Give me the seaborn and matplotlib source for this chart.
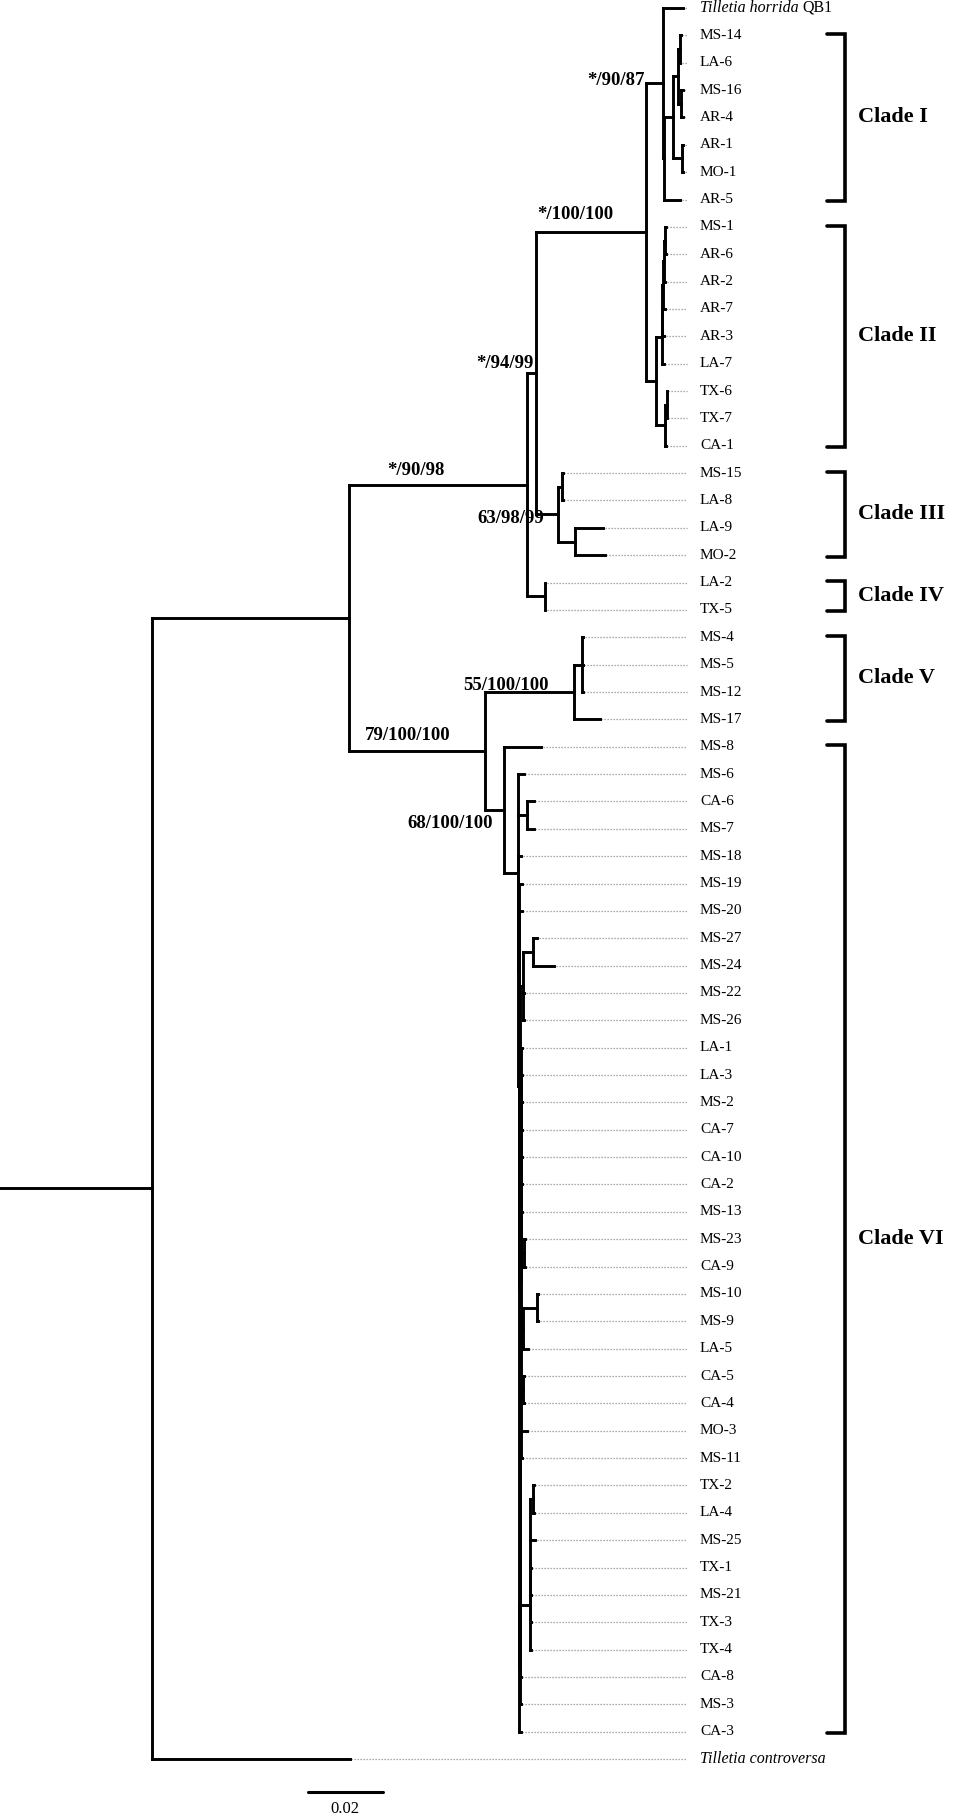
import numpy as np
import pandas as pd
import matplotlib
matplotlib.use("Agg")
import matplotlib.pyplot as plt
import seaborn as sns

# ---------------- data: leaves (top to bottom) ----------------
taxa = ["Tilletia horrida QB1", "MS-14", "LA-6", "MS-16", "AR-4", "AR-1", "MO-1", "AR-5",
        "MS-1", "AR-6", "AR-2", "AR-7", "AR-3", "LA-7", "TX-6", "TX-7", "CA-1",
        "MS-15", "LA-8", "LA-9", "MO-2", "LA-2", "TX-5",
        "MS-4", "MS-5", "MS-12", "MS-17",
        "MS-8", "MS-6", "CA-6", "MS-7", "MS-18", "MS-19", "MS-20", "MS-27", "MS-24",
        "MS-22", "MS-26", "LA-1", "LA-3", "MS-2", "CA-7", "CA-10", "CA-2", "MS-13",
        "MS-23", "CA-9", "MS-10", "MS-9", "LA-5", "CA-5", "CA-4", "MO-3", "MS-11",
        "TX-2", "LA-4", "MS-25", "TX-1", "MS-21", "TX-3", "TX-4", "CA-8", "MS-3", "CA-3",
        "Tilletia controversa"]
taxa_parent = ["n9087", "c1c2", "c1c2", "c1e", "c1e", "c1d", "c1d", "c1a",
               "c2a5", "c2a5", "c2a3", "c2a2", "c2a1", "c2a", "c2tx", "c2tx", "c2b",
               "c3a", "c3a", "c3b", "c3b", "c4", "c4",
               "c5a", "c5a", "c5a", "c5",
               "c6", "c6b", "c6ca", "c6ca", "r1", "r2", "r3", "n2724", "n2724",
               "p", "p", "r9", "r10", "r11", "r11", "r11", "r11", "r11",
               "n2329", "n2329", "n109", "n109", "nl", "n54", "n54", "r11", "r11",
               "tl", "tl", "tga", "tga", "tga", "tga", "tg", "r6", "r5", "r4",
               "ROOT"]
taxa_length = [0.00539, 0.00027, 0.00013, 0.00040, 0.00040, 0.00048, 0.00048, 0.00427,
               0.00027, 0.00027, 0.00040, 0.00053, 0.00053, 0.00053, 0.00008, 0.00008, 0.00027,
               0.00027, 0.00027, 0.00747, 0.00800, 0.00024, 0.00024,
               0.00040, 0.00027, 0.00027, 0.00693,
               0.00987, 0.00168, 0.00179, 0.00179, 0.00085, 0.00075, 0.00067, 0.00107, 0.00560,
               0.00027, 0.00027, 0.00032, 0.00024, 0.00016, 0.00016, 0.00016, 0.00016, 0.00016,
               0.00019, 0.00019, 0.00019, 0.00019, 0.00125, 0.00013, 0.00013, 0.00149, 0.00016,
               0.00035, 0.00035, 0.00123, 0.00016, 0.00016, 0.00016, 0.00027, 0.00029, 0.00037, 0.00045,
               0.05280]

# ---------------- data: internal nodes ----------------
node_ids = ["n9098", "n9499b", "n9499", "n100", "n9087", "c1a", "c1b", "c1c", "c1c2", "c1e", "c1d",
            "c2", "c2a", "c2a1", "c2a2", "c2a3", "c2a5", "c2b", "c2tx",
            "c3", "c3a", "c3b", "c4",
            "n79", "c5", "c5a", "c6", "c6b", "c6ca",
            "r1", "r2", "r3", "r4", "r5", "r6", "r7", "r8", "r9", "r10", "r11",
            "p", "n2724", "tg", "tga", "tl", "n2329", "nl", "n109", "n54"]
node_parent = ["ROOT", "n9098", "n9499b", "n9499", "n100", "n9087", "c1a", "c1b", "c1c", "c1c", "c1b",
               "n100", "c2", "c2a", "c2a1", "c2a2", "c2a3", "c2", "c2b",
               "n9499", "c3", "c3", "n9499b",
               "n9098", "n79", "c5", "n79", "c6", "c6b",
               "c6b", "r1", "r2", "r3", "r4", "r5", "r6", "r7", "r8", "r9", "r10",
               "r8", "p", "r7", "tg", "tga", "r11", "r11", "nl", "r11"]
node_length = [0.05253, 0.04747, 0.00240, 0.02933, 0.00461, 0.00032, 0.00240, 0.00133, 0.00040, 0.00080, 0.00219,
               0.00280, 0.00147, 0.00013, 0.00013, 0.00027, 0.00027, 0.00227, 0.00045,
               0.00597, 0.00096, 0.00443, 0.00469,
               0.03627, 0.02373, 0.00213, 0.00507, 0.00365, 0.00256,
               0.00016, 0.00011, 0.00008, 0.00008, 0.00008, 0.00008, 0.00008, 0.00008, 0.00008, 0.00008, 0.00008,
               0.00067, 0.00267, 0.00261, 0.00011, 0.00061, 0.00077, 0.00051, 0.00373, 0.00056]
root_length = 0.04053

# bootstrap / support values
support_nodes = ["n9087", "n100", "n9499", "c3", "n9499b", "n79", "c5", "c6"]
support_text = ["*/90/87", "*/100/100", "*/94/99", "63/98/99", "*/90/98",
                "79/100/100", "55/100/100", "68/100/100"]

# clades
clade_names = ["Clade I", "Clade II", "Clade III", "Clade IV", "Clade V", "Clade VI"]
clade_first = ["MS-14", "MS-1", "MS-15", "LA-2", "MS-4", "MS-8"]
clade_last = ["AR-5", "CA-1", "MO-2", "TX-5", "MS-17", "CA-3"]

scale_length = 0.02
scale_label = "0.02"

# ---------------- layout constants ----------------
PX = 1 / 3750.0            # tree distance per pixel
W, H = 975, 1818
leader_end = 687 * PX
label_x = 700 * PX
bracket_x = 845 * PX
bracket_tick = 827 * PX
clade_label_x = 858 * PX
scale_x0 = 307.5 * PX
row0_px, row_px = 8.0, 27.36

# support label offsets: (dx px, dy px up, ha)
support_layout = {
    "n9087": (-1, 3, "right"), "n100": (1.5, 18, "left"), "n9499": (6.5, 10, "right"),
    "c3": (8, -4, "right"), "n9499b": (38, 14, "left"), "n79": (16, 15, "left"),
    "c5": (-21.4, 7, "left"), "c6": (7.7, -14, "right"),
}

# ---------------- build tree geometry ----------------
parent = {"ROOT": None}
blen = {"ROOT": root_length}
for n, p, l in zip(node_ids, node_parent, node_length):
    parent[n] = p
    blen[n] = l
for n, p, l in zip(taxa, taxa_parent, taxa_length):
    parent[n] = p
    blen[n] = l

children = {}
for n, p in parent.items():
    if p is not None:
        children.setdefault(p, []).append(n)

xpos = {}
def get_x(n):
    if n in xpos:
        return xpos[n]
    p = parent[n]
    xpos[n] = blen[n] + (0.0 if p is None else get_x(p))
    return xpos[n]
for n in parent:
    get_x(n)

ypos = {t: i for i, t in enumerate(taxa)}
def get_y(n):
    if n in ypos:
        return ypos[n]
    ys = [get_y(c) for c in children[n]]
    ypos[n] = (min(ys) + max(ys)) / 2
    return ypos[n]
get_y("ROOT")

rows = []
seg = 0
for n in parent:
    p = parent[n]
    x0 = 0.0 if p is None else xpos[p]
    rows += [(seg, x0, ypos[n]), (seg, xpos[n], ypos[n])]
    seg += 1
    if n in children:
        ys = [ypos[c] for c in children[n]]
        rows += [(seg, xpos[n], min(ys)), (seg, xpos[n], max(ys))]
        seg += 1
branches = pd.DataFrame(rows, columns=["seg", "x", "y"])

lrows = []
for i, t in enumerate(taxa):
    lrows += [(i, xpos[t] + 1.5 * PX, i), (i, leader_end, i)]
leaders = pd.DataFrame(lrows, columns=["seg", "x", "y"])

brows = []
k = 0
for f, l in zip(clade_first, clade_last):
    y0, y1 = ypos[f] - 0.05, ypos[l] + 0.05
    brows += [(k, bracket_tick, y0), (k, bracket_x, y0), (k, bracket_x, y1), (k, bracket_tick, y1)]
    k += 1
brackets = pd.DataFrame(brows, columns=["seg", "x", "y"])

y_scale = (1792 - row0_px) / row_px
scalebar = pd.DataFrame({"seg": [0, 0], "x": [scale_x0, scale_x0 + scale_length],
                         "y": [y_scale, y_scale]})

# ---------------- draw ----------------
sns.set_theme(style="white")
plt.rcParams["font.family"] = ["Liberation Serif", "DejaVu Serif"]
plt.rcParams["text.color"] = "black"

fig = plt.figure(figsize=(W / 100, H / 100), dpi=100)
ax = fig.add_axes([0, 0, 1, 1])

sns.lineplot(data=leaders, x="x", y="y", units="seg", estimator=None, sort=False,
             color="#8e8e8e", lw=0.9, linestyle=(0, (1, 1.4)), ax=ax)
sns.lineplot(data=branches, x="x", y="y", units="seg", estimator=None, sort=False,
             color="black", lw=2.1, ax=ax, solid_capstyle="projecting")
sns.lineplot(data=brackets, x="x", y="y", units="seg", estimator=None, sort=False,
             color="black", lw=2.6, ax=ax, solid_joinstyle="miter")
sns.lineplot(data=scalebar, x="x", y="y", units="seg", estimator=None, sort=False,
             color="black", lw=2.2, ax=ax)

ax.set_xlim(0, W * PX)
ax.set_ylim((H - row0_px) / row_px, -row0_px / row_px)
ax.axis("off")

# tip labels
for i, t in enumerate(taxa):
    if t.startswith("Tilletia"):
        parts = t.split(" ")
        ital = " ".join(parts[:2])
        rest = " ".join(parts[2:])
        txt = ax.text(label_x, i, ital, fontsize=11.5, style="italic",
                      ha="left", va="center", color="black")
        if rest:
            ax.annotate(rest, xy=(1, 0), xycoords=txt, xytext=(4, 0),
                        textcoords="offset pixels", ha="left", va="bottom",
                        fontsize=11.5, color="black")
    else:
        ax.text(label_x, i, t, fontsize=11, ha="left", va="center", color="black")

# support values
for n, s in zip(support_nodes, support_text):
    dx, dy, ha = support_layout[n]
    ax.annotate(s, xy=(xpos[parent[n]], ypos[n]), xytext=(dx, dy),
                textcoords="offset pixels", ha=ha, va="center",
                fontsize=13.5, fontweight="bold", color="black")

# clade labels
for name, f, l in zip(clade_names, clade_first, clade_last):
    ax.text(clade_label_x, (ypos[f] + ypos[l]) / 2, name, fontsize=16,
            fontweight="bold", ha="left", va="center", color="black")

# scale label
ax.text(scale_x0 + scale_length / 2, (1809 - row0_px) / row_px, scale_label,
        fontsize=12, ha="center", va="center", color="black")

fig.savefig("out.png", dpi=100)
